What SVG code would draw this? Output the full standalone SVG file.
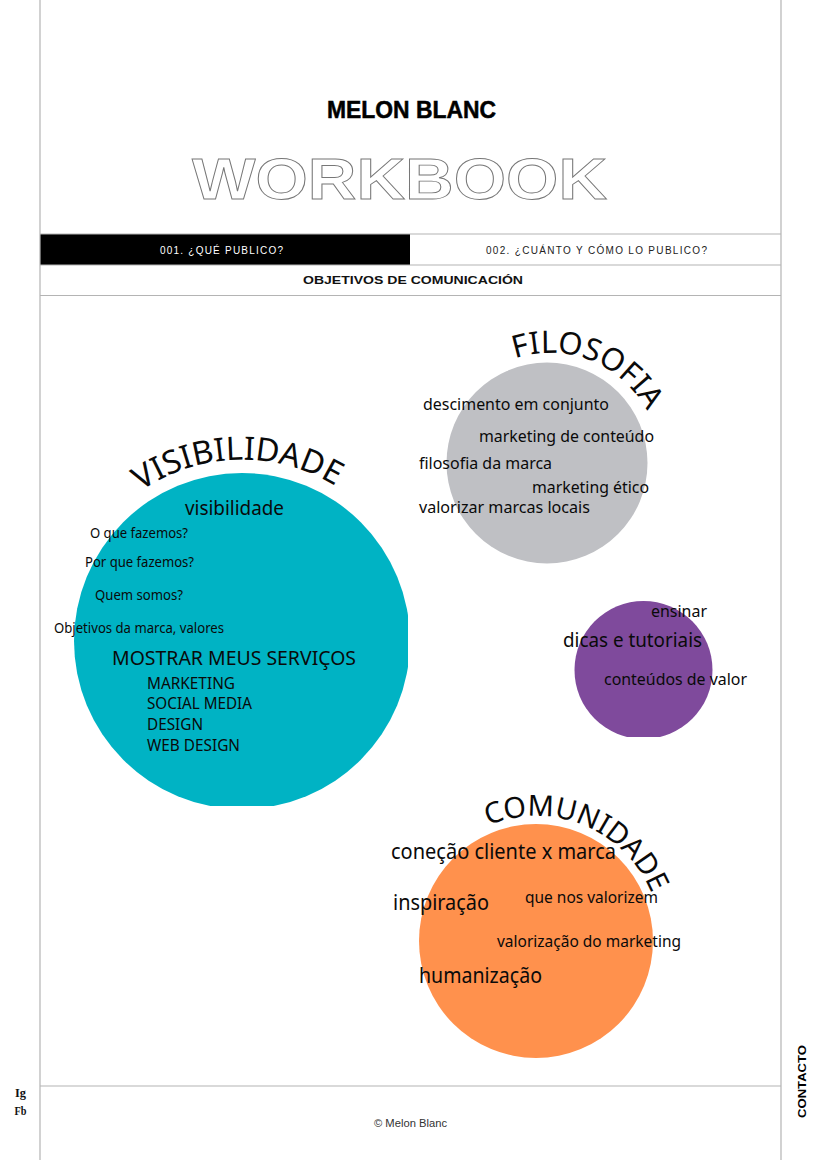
<svg xmlns="http://www.w3.org/2000/svg" xmlns:xlink="http://www.w3.org/1999/xlink" width="820" height="1160" viewBox="0 0 820 1160">
<style>
.ln{stroke:#b4b4b4;stroke-width:1.2;fill:none}
.t{font-family:"Noto Sans","Open Sans",sans-serif;fill:#0a0a0a}
.a{font-family:"Noto Sans","Open Sans",sans-serif;fill:#0a0a0a}
.h{font-family:"Liberation Sans",Arial,sans-serif}
.s{font-family:"Liberation Serif",serif;font-size:12px;font-weight:700;fill:#111}
</style>
<defs>
<clipPath id="cv"><rect x="60" y="460" width="348" height="346"/></clipPath>
<clipPath id="cp"><rect x="560" y="590" width="170" height="147"/></clipPath>
<path id="av" d="M141 491A179 179 0 0 1 337 487"/>
<path id="af" d="M515 358.500A110 110 0 0 1 647 411"/>
<path id="ac" d="M488.200 825.500A125 125 0 0 1 651.900 894.200"/>
</defs>
<rect width="820" height="1160" fill="#fff"/>
<g id="frame">
<rect x="40" y="234" width="370" height="31" fill="#000"/>
<path class="ln" d="M40 0V1160M781 0V1160M40 234H781M40 265H781M40 295.500H781M40 1086H781"/>
</g>
<g id="header">
<text class="h" x="327" y="118" font-size="23" font-weight="700" stroke="#000" stroke-width=".5" textLength="169" lengthAdjust="spacingAndGlyphs">MELON BLANC</text>
<text class="h" x="192" y="199" font-size="58" font-weight="700" fill="#fff" stroke="#777" stroke-width=".9" textLength="415" lengthAdjust="spacingAndGlyphs">WORKBOOK</text>
<text class="h" x="160" y="254" font-size="10" fill="#fff" textLength="123" lengthAdjust="spacing">001. ¿QUÉ PUBLICO?</text>
<text class="h" x="486" y="254" font-size="10" fill="#222" textLength="221" lengthAdjust="spacing">002. ¿CUÁNTO Y CÓMO LO PUBLICO?</text>
<text class="h" x="303" y="284" font-size="11" font-weight="700" fill="#111" textLength="220" lengthAdjust="spacingAndGlyphs">OBJETIVOS DE COMUNICACIÓN</text>
</g>
<g id="filosofia">
<circle cx="547" cy="463" r="100.500" fill="#bfc0c4"/>
<text class="a" font-size="31"><textPath href="#af" xlink:href="#af">FILOSOFIA</textPath></text>
<text class="t" x="423" y="410" font-size="16.500" textLength="186" lengthAdjust="spacingAndGlyphs">descimento em conjunto</text>
<text class="t" x="479" y="442" font-size="16.500" textLength="175" lengthAdjust="spacingAndGlyphs">marketing de conteúdo</text>
<text class="t" x="419" y="469" font-size="16.500" textLength="133" lengthAdjust="spacingAndGlyphs">filosofia da marca</text>
<text class="t" x="532" y="493" font-size="16.500" textLength="117" lengthAdjust="spacingAndGlyphs">marketing ético</text>
<text class="t" x="419" y="513" font-size="16.500" textLength="171" lengthAdjust="spacingAndGlyphs">valorizar marcas locais</text>
</g>
<g id="visibilidade">
<circle cx="242" cy="641" r="168" fill="#00b3c4" clip-path="url(#cv)"/>
<text class="a" font-size="32.500"><textPath href="#av" xlink:href="#av">VISIBILIDADE</textPath></text>
<text class="t" x="185" y="515" font-size="19.500" textLength="99" lengthAdjust="spacingAndGlyphs">visibilidade</text>
<text class="t" x="90" y="538" font-size="14" textLength="98" lengthAdjust="spacingAndGlyphs">O que fazemos?</text>
<text class="t" x="85" y="567" font-size="14" textLength="109" lengthAdjust="spacingAndGlyphs">Por que fazemos?</text>
<text class="t" x="95" y="600" font-size="14" textLength="88" lengthAdjust="spacingAndGlyphs">Quem somos?</text>
<text class="t" x="54" y="633" font-size="14" textLength="170" lengthAdjust="spacingAndGlyphs">Objetivos da marca, valores</text>
<text class="t" x="112" y="665" font-size="19.500" textLength="244" lengthAdjust="spacingAndGlyphs">MOSTRAR MEUS SERVIÇOS</text>
<text class="t" x="147" y="688.500" font-size="16" textLength="88" lengthAdjust="spacingAndGlyphs">MARKETING</text>
<text class="t" x="147" y="708.500" font-size="16" textLength="105" lengthAdjust="spacingAndGlyphs">SOCIAL MEDIA</text>
<text class="t" x="147" y="729.500" font-size="16" textLength="56" lengthAdjust="spacingAndGlyphs">DESIGN</text>
<text class="t" x="147" y="750.500" font-size="16" textLength="93" lengthAdjust="spacingAndGlyphs">WEB DESIGN</text>
</g>
<g id="valor">
<circle cx="643.500" cy="670" r="69" fill="#7f4a9c" clip-path="url(#cp)"/>
<text class="t" x="651" y="617" font-size="15.500" textLength="56" lengthAdjust="spacingAndGlyphs">ensinar</text>
<text class="t" x="563" y="647" font-size="19" textLength="139" lengthAdjust="spacingAndGlyphs">dicas e tutoriais</text>
<text class="t" x="604" y="685" font-size="16" textLength="143" lengthAdjust="spacingAndGlyphs">conteúdos de valor</text>
</g>
<g id="comunidade">
<circle cx="536" cy="941" r="117" fill="#ff914d"/>
<text class="a" font-size="29"><textPath href="#ac" xlink:href="#ac">COMUNIDADE</textPath></text>
<text class="t" x="391" y="859" font-size="21" textLength="225" lengthAdjust="spacingAndGlyphs">coneção cliente x marca</text>
<text class="t" x="393" y="910" font-size="21" textLength="96" lengthAdjust="spacingAndGlyphs">inspiração</text>
<text class="t" x="525" y="903" font-size="16.500" textLength="133" lengthAdjust="spacingAndGlyphs">que nos valorizem</text>
<text class="t" x="497" y="947" font-size="17" textLength="184" lengthAdjust="spacingAndGlyphs">valorização do marketing</text>
<text class="t" x="419" y="983" font-size="21" textLength="123" lengthAdjust="spacingAndGlyphs">humanização</text>
</g>
<g id="footer">
<text class="s" x="15" y="1097" textLength="11" lengthAdjust="spacingAndGlyphs">Ig</text>
<text class="s" x="14.500" y="1115" textLength="12" lengthAdjust="spacingAndGlyphs">Fb</text>
<text class="h" x="374" y="1127" font-size="10" fill="#333" textLength="73" lengthAdjust="spacingAndGlyphs">© Melon Blanc</text>
<text class="h" transform="translate(806 1118) rotate(-90)" font-size="11" font-weight="700" fill="#000" textLength="73" lengthAdjust="spacingAndGlyphs">CONTACTO</text>
</g>
<g id="connectors"></g>
</svg>
